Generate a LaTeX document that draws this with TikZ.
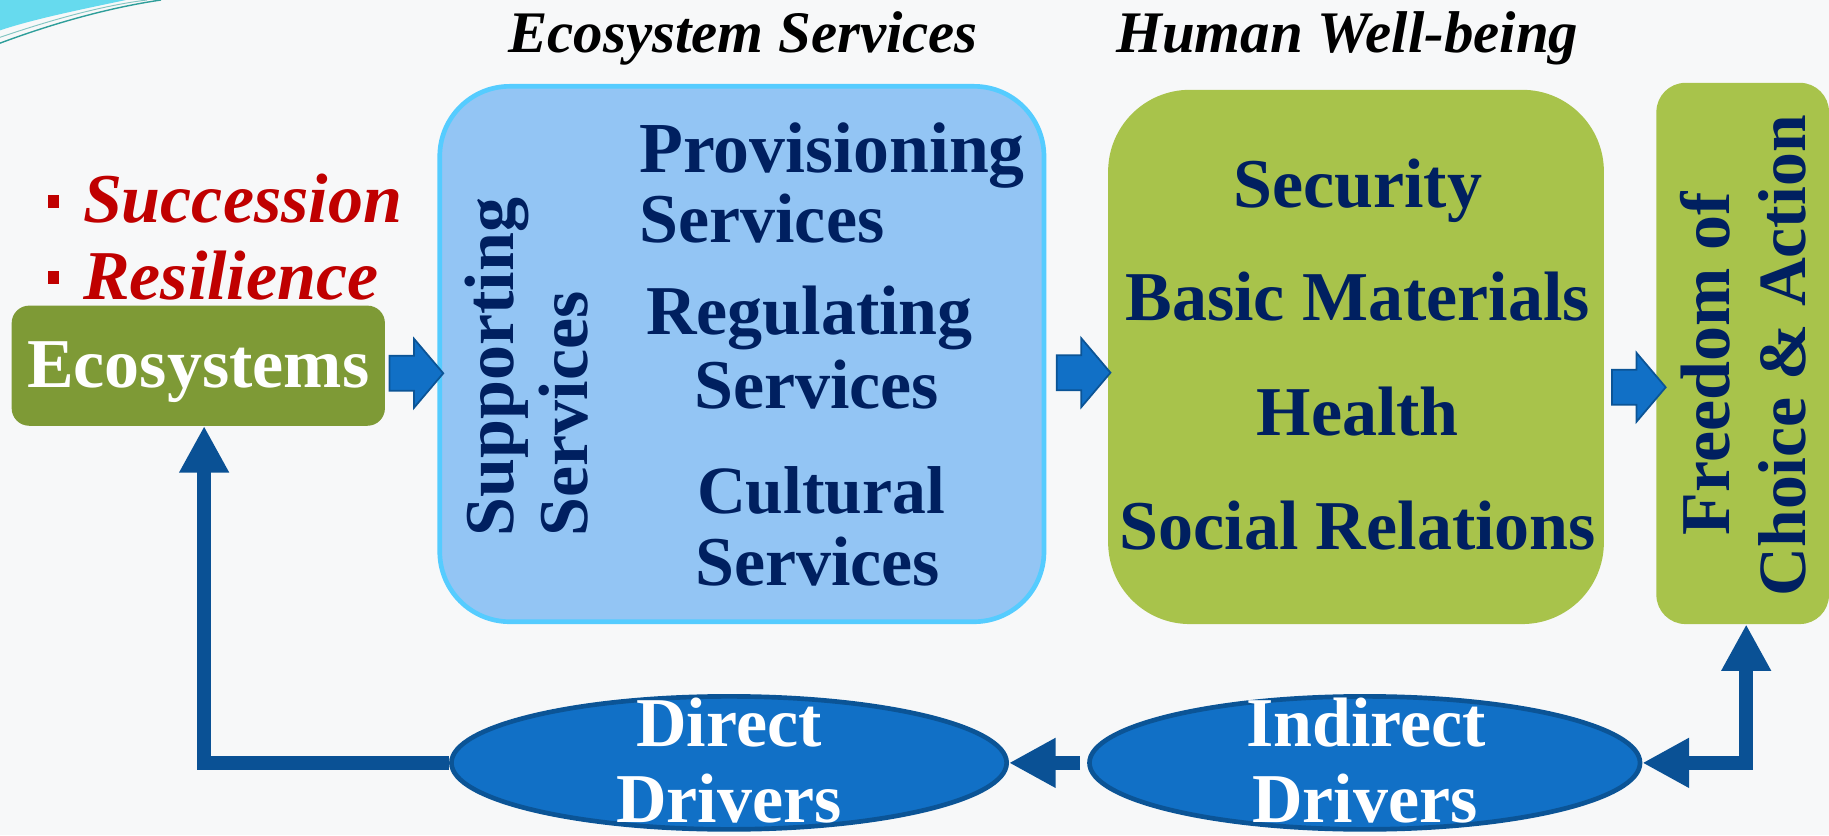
\documentclass[tikz,border=0pt]{standalone}
\usepackage{fontspec}
\setmainfont{Liberation Serif}
\usetikzlibrary{arrows.meta,shapes.geometric,calc}
\definecolor{navy}{HTML}{002060}
\definecolor{bgc}{HTML}{F7F8F9}
\definecolor{olivebox}{HTML}{7E9A36}
\definecolor{greenbox}{HTML}{A8C34B}
\definecolor{lbluebox}{HTML}{93C5F4}
\definecolor{cyanedge}{HTML}{55CCFF}
\definecolor{drvfill}{HTML}{1170C6}
\definecolor{drvedge}{HTML}{0B5496}
\definecolor{connc}{HTML}{0A5195}
\definecolor{redtxt}{HTML}{C00000}
\definecolor{decocyan}{HTML}{66DAEE}
\definecolor{decoteal}{HTML}{2E9E9A}
\newcommand\fsz[1]{\fontsize{#1}{#1}\selectfont}
\newcommand\barr[1]{\draw[barrow] (#1) ++(0,-15) -- ++(21,0) -- ++(0,-14.5) -- ++(25,29.5) -- ++(-25,29.5) -- ++(0,-14.5) -- ++(-21,0) -- cycle;}
\begin{document}
\begin{tikzpicture}[x=1pt,y=-1pt,
  box/.style={rectangle, inner sep=0pt},
  drv/.style={ellipse, inner sep=0pt, fill=drvfill, draw=drvedge, line width=4pt, minimum height=114pt},
  txt/.style={inner sep=0pt, anchor=base, font=\bfseries\fsz{60}, text=navy},
  wtxt/.style={txt, text=white},
  ttl/.style={inner sep=0pt, anchor=base, font=\bfseries\itshape\fsz{50.5}, text=black},
  rtxt/.style={inner sep=0pt, anchor=base west, font=\bfseries\itshape\fsz{60}, text=redtxt},
  bsq/.style={rectangle, inner sep=0pt, fill=redtxt, minimum width=10pt, minimum height=11pt},
  barrow/.style={fill=drvfill, draw=drvedge, line width=1.5pt, line join=miter},
  conn/.style={draw=connc, line width=12pt, line join=miter},
  tip/.tip={Triangle[width=40pt,length=40pt]}
]
\useasboundingbox (0,0) rectangle (1568,716);
\fill[bgc] (0,0) rectangle (1568,716);
% corner decoration
\fill[decocyan] (0,0) -- (108,0) .. controls (70,8) and (30,16) .. (0,26) -- cycle;
\draw[decoteal, line width=1.2pt] (0,37) .. controls (40,22) and (90,7) .. (138,0);
\draw[decoteal!60, line width=0.8pt] (0,32) .. controls (38,19) and (85,5) .. (126,0);

% titles
\node[ttl] (t1) at (637,45) {Ecosystem Services};
\node[ttl] (t2) at (1155,45) {Human Well-being};

% boxes
\node[box, fill=olivebox, rounded corners=15pt, minimum width=320pt, minimum height=103pt] (eco) at (170,313.5) {};
\node[box, fill=lbluebox, draw=cyanedge, line width=4pt, rounded corners=60pt, minimum width=518pt, minimum height=459pt] (es) at (636,303.5) {};
\node[box, fill=greenbox, rounded corners=70pt, minimum width=425pt, minimum height=458pt] (hw) at (1162.5,306) {};
\node[box, fill=greenbox, rounded corners=25pt, minimum width=148pt, minimum height=464pt] (fr) at (1494,303) {};
\node[drv, minimum width=476pt] (dd) at (625,654) {};
\node[drv, minimum width=472pt] (id) at (1170,654) {};

% red list
\node[bsq] (b1) at (46,172.5) {};
\node[rtxt] (suc) at (71,191) {Succession};
\node[bsq] (b2) at (46,238) {};
\node[rtxt] (res) at (71,257) {Resilience};

% texts
\node[wtxt] (ecot) at (170,332) {Ecosystems};
\node[txt, rotate=90, anchor=base west] (sup1) at (440,460) {Supporting};
\node[txt, rotate=90, anchor=base west] (sup2) at (504,460) {Services};
\node[txt, anchor=base west, font=\bfseries\fsz{61.5}] (pv1) at (548,148) {Provisioning};
\node[txt, anchor=base west] (pv2) at (548,208) {Services};
\node[txt] (rg1) at (694,287) {Regulating};
\node[txt] (rg2) at (700,350) {Services};
\node[txt, font=\bfseries\fsz{58}] (cu1) at (704,440) {Cultural};
\node[txt] (cu2) at (701,502) {Services};
\node[txt] (h1) at (1164,178) {Security};
\node[txt] (h2) at (1164,275) {Basic Materials};
\node[txt] (h3) at (1164,373) {Health};
\node[txt] (h4) at (1164,471) {Social Relations};
\node[txt, rotate=90] (f1) at (1483,312) {Freedom of};
\node[txt, rotate=90, font=\bfseries\fsz{58}] (f2) at (1548,305) {Choice \& Action};
\node[wtxt] (dd1) at (625,640) {Direct};
\node[wtxt] (dd2) at (625,705) {Drivers};
\node[wtxt] (id1) at (1171,640) {Indirect};
\node[wtxt] (id2) at (1170,705) {Drivers};

% block arrows
\coordinate (a1) at (334,320);
\coordinate (a2) at (906,319.5);
\coordinate (a3) at (1382,332);
\barr{a1}
\barr{a2}
\barr{a3}

% connectors
\draw[conn, -tip] (dd.west) -| ([xshift=5pt]eco.south);
\draw[conn, -tip] ([xshift=-6pt]id.west) -- (dd.east);
\draw[conn, tip-tip] (id.east) -| ([xshift=3pt]fr.south);
\end{tikzpicture}
\end{document}
